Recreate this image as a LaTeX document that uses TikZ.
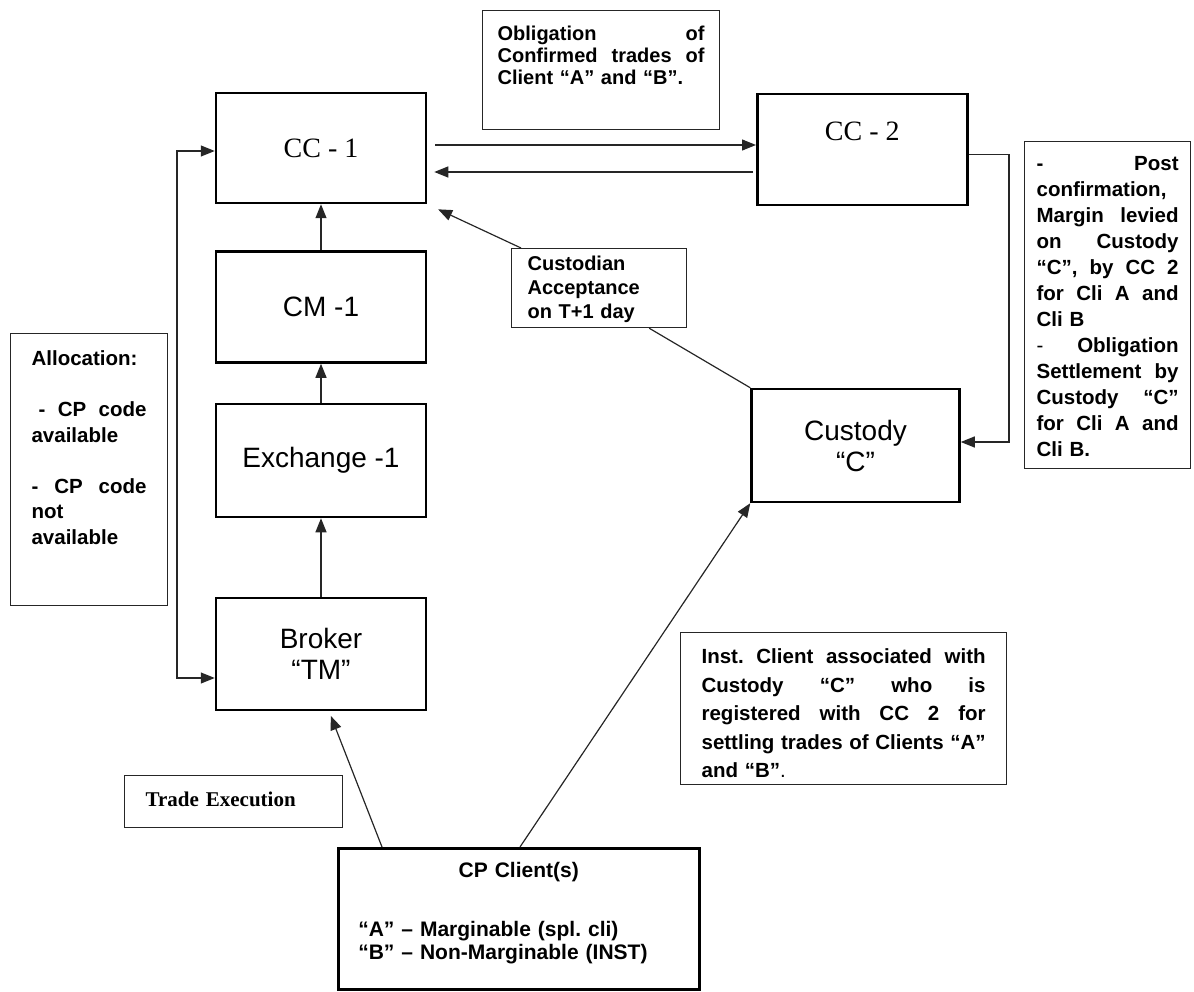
\documentclass[tikz,border=0pt]{standalone}
\usepackage{fontspec}
\setmainfont{Liberation Sans}
\newfontfamily\timesfont{Liberation Serif}
\usetikzlibrary{arrows.meta}

\newcommand{\spreadline}[1]{\leavevmode\hbox to\hsize{#1}}

\begin{document}
\begin{tikzpicture}[
	x=1pt, y=-1pt,
	entity/.style={draw, line width=2.5pt, inner sep=0pt, align=center, minimum width=210pt, font=\fontsize{28}{31}\selectfont},
	note/.style={draw=black!85, line width=1.2pt, anchor=north west, inner ysep=0pt, align=left, font=\bfseries\fontsize{20.5}{23.5}\selectfont},
	to/.style={-{Triangle[length=14pt,width=11pt]}, line width=1.2pt, draw=black!85},
	link/.style={line width=1.2pt, draw=black!85}
	]
	\useasboundingbox (0,0) rectangle (1194,992);

	\node[entity, minimum height=110pt, font=\timesfont\fontsize{28}{34}\selectfont] (cc1) at (321,148) {CC - 1};
	\node[entity, anchor=north west, text height=46.5pt, text depth=64.5pt, font=\timesfont\fontsize{28}{34}\selectfont] (cc2) at (756,93) {CC - 2};
	\node[entity, minimum height=111pt] (cm1) at (321,307) {CM -1};
	\node[entity, minimum height=113pt] (exch) at (321,460.5) {Exchange -1};
	\node[entity, minimum height=112pt] (broker) at (321,654) {Broker\\“TM”};
	\node[entity, minimum width=208pt, minimum height=113pt] (custody) at (855.5,445.5) {Custody\\“C”};

	\node[note, inner xsep=15pt, text width=207pt, text height=30pt, text depth=89pt, font=\bfseries\fontsize{20}{22}\selectfont] (oblig) at (482,10)
		{\spreadline{Obligation\hfill of}\\ \spreadline{Confirmed\hfill trades\hfill of}\\ Client “A” and “B”.};
	\node[note, inner xsep=12pt, text width=142pt, text height=29pt, text depth=298pt, font=\bfseries\fontsize{20.5}{26}\selectfont] (margin) at (1024,141)
		{\spreadline{-\hfill Post}\\ confirmation,\\ \spreadline{Margin\hfill levied}\\ \spreadline{on\hfill Custody}\\ \spreadline{“C”,\hfill by\hfill CC\hfill 2}\\ \spreadline{for\hfill Cli\hfill A\hfill and}\\ Cli B\\ \spreadline{{\mdseries -}\hfill Obligation}\\ \spreadline{Settlement\hfill by}\\ \spreadline{Custody\hfill “C”}\\ \spreadline{for\hfill Cli\hfill A\hfill and}\\ Cli B.};
	\node[note, inner xsep=21pt, text width=115pt, text height=32pt, text depth=240pt, font=\bfseries\fontsize{20.5}{25.5}\selectfont] (alloc) at (10,333)
		{Allocation:\\[25.5pt] \spreadline{\hspace*{7pt}-\hfill CP\hfill code}\\ available\\[25.5pt] \spreadline{-\hfill CP\hfill code}\\ not\\ available};
	\node[note, inner xsep=16pt, text width=143pt, text height=22pt, text depth=57pt, font=\bfseries\fontsize{20}{24}\selectfont] (accept) at (511,248)
		{Custodian\\ Acceptance\\ on T+1 day};
	\node[note, inner xsep=21pt, text width=284pt, text height=31pt, text depth=121pt, font=\bfseries\fontsize{20.5}{28.5}\selectfont] (inst) at (680,632)
		{\spreadline{Inst.\hfill Client\hfill associated\hfill with}\\ \spreadline{Custody\hfill “C”\hfill who\hfill is}\\ \spreadline{registered\hfill with\hfill CC\hfill 2\hfill for}\\ \spreadline{settling\hfill trades\hfill of\hfill Clients\hfill “A”}\\ and “B”{\mdseries .}};
	\node[note, inner xsep=21pt, text width=176pt, text height=31pt, text depth=21pt, font=\timesfont\bfseries\fontsize{21}{24}\selectfont] (trade) at (124,775)
		{Trade Execution};
	\node[note, draw=black, line width=2.5pt, inner xsep=20pt, text width=321pt, text height=29pt, text depth=112pt, font=\bfseries\fontsize{21}{23}\selectfont] (cpclient) at (337,847)
		{\spreadline{\hfill CP Client(s)\hfill}\\[36pt] “A” – Marginable (spl.\ cli)\\ “B” – Non-Marginable (INST)};

	\coordinate (loop) at (177,151);
	\coordinate (bend) at (1009,300);

	\draw[to, shorten <=8pt] ([yshift=3pt]cc1.east) -- ([yshift=3pt]cc1.east -| cc2.west);
	\draw[to, shorten <=3pt, shorten >=7pt] ([yshift=-24pt]cc1.east -| cc2.west) -- ([yshift=-24pt]cc1.east);
	\draw[to] (cm1.north) -- (cc1.south);
	\draw[to] (exch.north) -- (cm1.south);
	\draw[to] (broker.north) -- (exch.south);
	\draw[link, {Triangle[length=14pt,width=11pt]}-{Triangle[length=14pt,width=11pt]}] (cc1.west |- loop) -- (loop) |- ([yshift=-24pt]broker.west);
	\draw[to, shorten >=12pt] ([xshift=10pt]accept.north west) -- (cc1.south east);
	\draw[link] ([xshift=-38pt]accept.south east) -- (custody.north west);
	\draw[to] ([yshift=-5pt]cc2.east) -| (bend) |- ([yshift=3.5pt]custody.east);
	\draw[to, shorten >=5pt] ([xshift=45pt]cpclient.north west) -- ([xshift=8pt]broker.south);
	\draw[to] ([xshift=183pt]cpclient.north west) -- (custody.south west);
\end{tikzpicture}
\end{document}
